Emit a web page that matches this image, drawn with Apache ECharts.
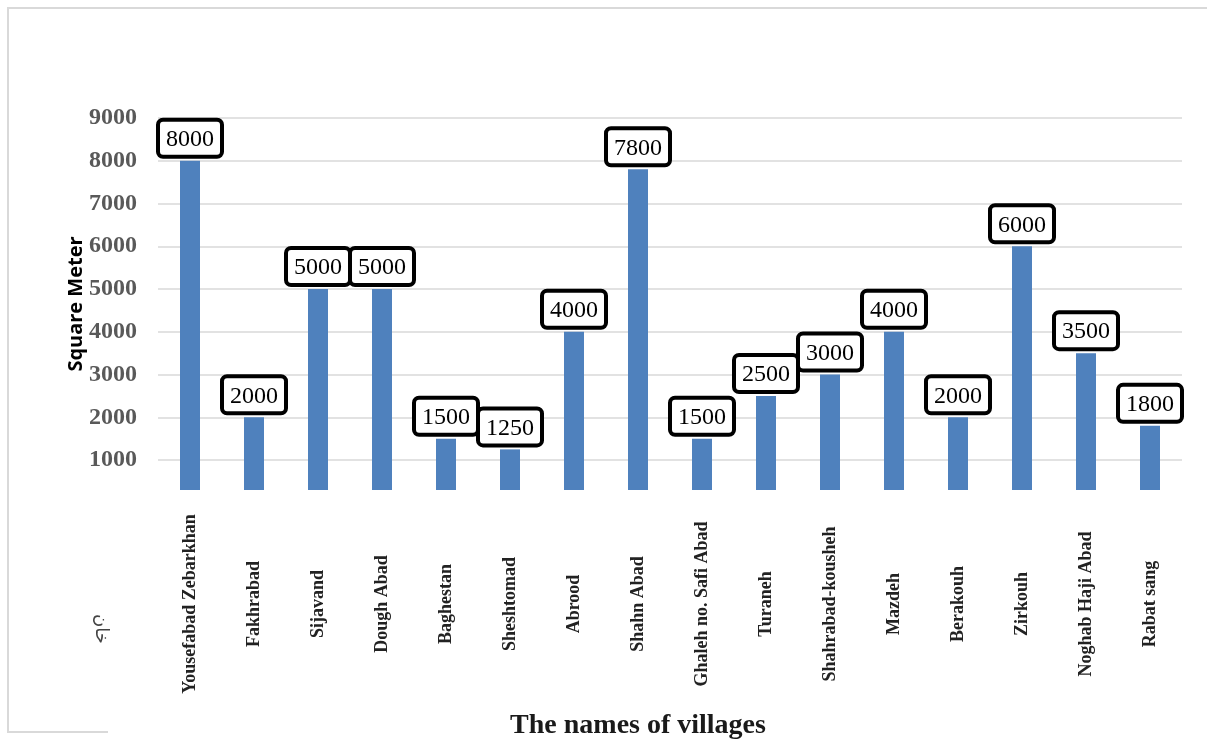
<!DOCTYPE html>
<html>
<head>
<meta charset="utf-8">
<title>Square Meter by village</title>
<script src="https://cdn.jsdelivr.net/npm/echarts@6.0.0/dist/echarts.min.js"></script>
<style>
  html, body { margin: 0; padding: 0; background: #fff; }
  #chart { width: 1207px; height: 742px; }
</style>
</head>
<body>
<div id="chart"></div>
<script>
// village names (x axis)
const villages = [
  'Yousefabad Zebarkhan', 'Fakhrabad', 'Sijavand', 'Dough Abad', 'Baghestan',
  'Sheshtomad', 'Abrood', 'Shahn Abad', 'Ghaleh no. Safi Abad', 'Turaneh',
  'Shahrabad-kousheh', 'Mazdeh', 'Berakouh', 'Zirkouh', 'Noghab Haji Abad', 'Rabat sang'
]
// area in square meter
const areas = [8000, 2000, 5000, 5000, 1500, 1250, 4000, 7800, 1500, 2500, 3000, 4000, 2000, 6000, 3500, 1800]
// y axis range, ticks every 1000
const yMin = 300
const yMax = 9000
const yStep = 1000

const chart = echarts.init(document.getElementById('chart'))

const option = {
  animation: false,
  backgroundColor: '#fff',
  grid: {
    left: 158,
    right: 25,
    top: 118,
    bottom: 252,
    containLabel: false,
    outerBoundsMode: 'none'
  },
  xAxis: {
    type: 'category',
    data: villages,
    name: 'The names of villages',
    nameLocation: 'middle',
    nameGap: 222,
    nameMoveOverlap: false,
    nameTextStyle: {
      fontFamily: 'Liberation Serif',
      fontWeight: 'bold',
      fontSize: 28,
      color: '#1a1a1a',
      padding: [0, 64, 0, 0]
    },
    axisLine: { show: false },
    axisTick: { show: false },
    axisLabel: {
      interval: 0,
      rotate: 90,
      align: 'center',
      margin: 114,
      fontFamily: 'Liberation Serif',
      fontWeight: 'bold',
      fontSize: 18,
      color: '#222'
    }
  },
  yAxis: {
    type: 'value',
    min: yMin,
    max: yMax,
    splitNumber: 9,
    minInterval: yStep,
    maxInterval: yStep,
    name: 'Square Meter',
    nameLocation: 'middle',
    nameGap: 58,
    nameMoveOverlap: false, // v6 pushes the name away from labels otherwise
    nameTextStyle: {
      fontFamily: 'Open Sans',
      fontWeight: 'bold',
      fontSize: 20,
      color: '#000',
      backgroundColor: '#fff',
      padding: [2, 4, 14, 4]
    },
    axisLine: { show: false },
    axisTick: { show: false },
    axisLabel: {
      margin: 21,
      fontFamily: 'Liberation Serif',
      fontWeight: 'bold',
      fontSize: 24,
      color: '#595959',
      formatter: v => (v % yStep === 0 ? v : '')
    },
    splitLine: {
      showMinLine: false,
      lineStyle: { color: '#d9d9d9', width: 1.5 }
    }
  },
  series: [
    {
      type: 'bar',
      data: areas,
      barWidth: 20,
      itemStyle: { color: '#4f81bd' },
      label: {
        show: true,
        position: 'top',
        distance: 6,
        fontFamily: 'Liberation Serif',
        fontSize: 24,
        color: '#000',
        backgroundColor: '#fff',
        borderColor: '#000',
        borderWidth: 4,
        borderRadius: 3,
        padding: [6, 6, 3, 6]
      }
    }
  ],
  graphic: [
    // thin frame around the picture
    {
      type: 'polyline',
      silent: true,
      shape: { points: [[1207, 8], [8, 8], [8, 732], [108, 732]] },
      style: { stroke: '#d9d9d9', lineWidth: 2, fill: null }
    },
    // stray persian text left of the first label
    {
      type: 'text',
      left: 92,
      top: 614,
      rotation: -Math.PI / 2,
      style: {
        text: 'خان',
        font: '18px "Noto Sans", "DejaVu Sans"',
        fill: '#444'
      }
    }
  ]
}

chart.setOption(option)
</script>
</body>
</html>
